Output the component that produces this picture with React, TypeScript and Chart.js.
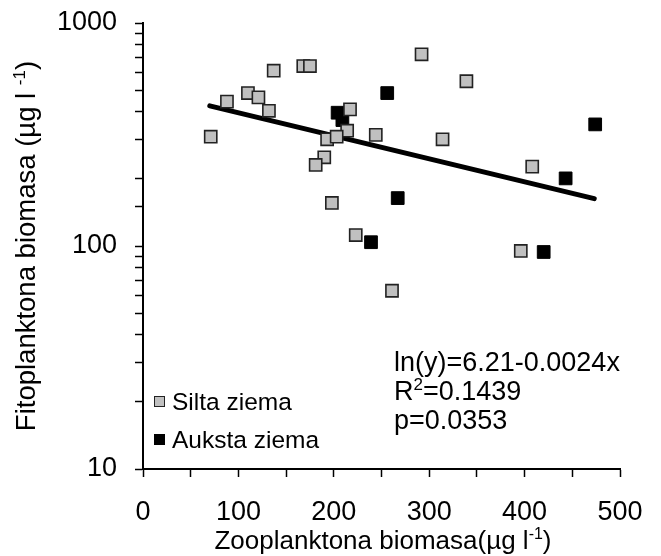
import React, { useEffect, useRef } from "react";
import { Chart, registerables } from "chart.js";

Chart.register(...registerables);

const siltaX = [71, 88, 110, 121, 137, 132, 168, 175, 217, 214, 193, 203, 244, 190, 181, 198, 223, 292, 339, 314, 408, 396, 261];
const siltaY = [309, 444, 485, 464, 611, 404, 641, 641, 410, 329, 301, 309, 315, 250, 231, 156, 112, 724, 548, 301, 227, 95, 63];
const aukstaX = [204, 209, 239, 256, 267, 474, 443, 420];
const aukstaY = [396, 367, 104, 485, 164, 351, 201, 94];
const trendX = [70, 473];
const trendY = [425, 163];

const xTickLabels = [0, 100, 200, 300, 400, 500];
const yTickLabels = [10, 100, 1000];

const legendLabels = ["Silta ziema", "Auksta ziema"];
const equationLines = ["ln(y)=6.21-0.0024x", "R", "p=0.0353"];

const FONT = "'Liberation Sans', Arial, sans-serif";
const GRAY = "#c0c0c0";

type Seg = { t: string; sup?: boolean };

function segWidth(ctx: CanvasRenderingContext2D, segs: Seg[], size: number) {
  let w = 0;
  for (const s of segs) {
    ctx.font = `${s.sup ? Math.round(size * 0.62) : size}px ${FONT}`;
    w += ctx.measureText(s.t).width;
  }
  return w;
}

function drawSegs(ctx: CanvasRenderingContext2D, segs: Seg[], x: number, y: number, size: number) {
  let cx = x;
  for (const s of segs) {
    const fs = s.sup ? Math.round(size * 0.62) : size;
    ctx.font = `${fs}px ${FONT}`;
    ctx.fillText(s.t, cx, s.sup ? y - size * 0.38 : y);
    cx += ctx.measureText(s.t).width;
  }
}

const annotPlugin = {
  id: "annot",
  afterDraw(chart: any) {
    const ctx: CanvasRenderingContext2D = chart.ctx;
    ctx.save();
    ctx.fillStyle = "#000";
    ctx.textBaseline = "alphabetic";
    ctx.textAlign = "left";

    // legend
    const items = [
      { label: legendLabels[0], fill: GRAY, stroke: "#222" },
      { label: legendLabels[1], fill: "#000", stroke: "#000" },
    ];
    const ly = [402, 440];
    items.forEach((it, i) => {
      ctx.fillStyle = it.fill;
      ctx.strokeStyle = it.stroke;
      ctx.lineWidth = 1;
      ctx.fillRect(154, ly[i] - 6, 11, 11);
      ctx.strokeRect(154.5, ly[i] - 5.5, 10, 10);
      ctx.fillStyle = "#000";
      ctx.font = `24.5px ${FONT}`;
      ctx.textBaseline = "middle";
      ctx.fillText(it.label, 172, ly[i] + 1);
    });

    // equation
    ctx.textBaseline = "alphabetic";
    const ex = 394;
    drawSegs(ctx, [{ t: equationLines[0] }], ex, 371, 27);
    drawSegs(ctx, [{ t: equationLines[1] }, { t: "2", sup: true }, { t: "=0.1439" }], ex, 400, 27);
    drawSegs(ctx, [{ t: equationLines[2] }], ex, 429, 27);

    // x title
    const xs: Seg[] = [{ t: "Zooplanktona biomasa(µg l" }, { t: "-1", sup: true }, { t: ")" }];
    const xw = segWidth(ctx, xs, 26);
    drawSegs(ctx, xs, 383 - xw / 2, 549, 26);

    // y title
    const ys: Seg[] = [{ t: "Fitoplanktona biomasa (µg l " }, { t: "-1", sup: true }, { t: ")" }];
    const yw = segWidth(ctx, ys, 27.5);
    ctx.translate(35, 246);
    ctx.rotate(-Math.PI / 2);
    drawSegs(ctx, ys, -yw / 2, 0, 27.5);
    ctx.restore();
  },
};

export default function App() {
  const ref = useRef<HTMLCanvasElement>(null);
  useEffect(() => {
    document.body.style.margin = "0";
    const ctx = ref.current!.getContext("2d")!;
    const chart = new Chart(ctx, {
      type: "scatter",
      data: {
        datasets: [
          {
            label: legendLabels[0],
            data: siltaX.map((x, i) => ({ x, y: siltaY[i] })),
            pointStyle: "rect",
            pointRadius: 8.6,
            pointHoverRadius: 8.6,
            backgroundColor: GRAY,
            borderColor: "#222",
            borderWidth: 1.6,
            order: 0,
          },
          {
            label: legendLabels[1],
            data: aukstaX.map((x, i) => ({ x, y: aukstaY[i] })),
            pointStyle: "rect",
            pointRadius: 9,
            pointHoverRadius: 9,
            backgroundColor: "#000",
            borderColor: "#000",
            borderWidth: 1,
            order: 1,
          },
          {
            type: "line",
            label: "trend",
            data: trendX.map((x, i) => ({ x, y: trendY[i] })),
            borderColor: "#000",
            borderWidth: 5,
            borderCapStyle: "round",
            pointRadius: 0,
            showLine: true,
            fill: false,
            order: 2,
          } as any,
        ],
      },
      options: {
        animation: false,
        responsive: false,
        maintainAspectRatio: false,
        layout: { padding: { top: 23, right: 41, left: 0, bottom: 0 } },
        plugins: { legend: { display: false }, tooltip: { enabled: false } },
        scales: {
          x: {
            type: "linear",
            min: 0,
            max: 500,
            afterFit: (s: any) => {
              s.height = 87;
              s.paddingLeft = 0;
              s.paddingRight = 0;
            },
            ticks: {
              stepSize: 50,
              autoSkip: false,
              maxRotation: 0,
              padding: 19,
              color: "#000",
              font: { size: 27, family: FONT },
              callback: (v: any) => (xTickLabels.includes(Number(v)) ? String(v) : ""),
            },
            grid: { drawOnChartArea: false, tickLength: 8, color: "#000", tickWidth: 1.5 },
            border: { color: "#000", width: 2 },
          },
          y: {
            type: "logarithmic",
            min: 10,
            max: 1000,
            afterFit: (s: any) => {
              s.width = 143;
              s.paddingTop = 0;
              s.paddingBottom = 0;
            },
            ticks: {
              autoSkip: false,
              padding: 18,
              color: "#000",
              font: { size: 27, family: FONT },
              callback: (v: any) => (yTickLabels.includes(Number(v)) ? String(v) : ""),
            },
            grid: { drawOnChartArea: false, tickLength: 8, color: "#000", tickWidth: 1.5 },
            border: { color: "#000", width: 2 },
          },
        },
      },
      plugins: [annotPlugin],
    });
    return () => chart.destroy();
  }, []);
  return <canvas ref={ref} width={661} height={556} style={{ display: "block", width: 661, height: 556 }} />;
}
